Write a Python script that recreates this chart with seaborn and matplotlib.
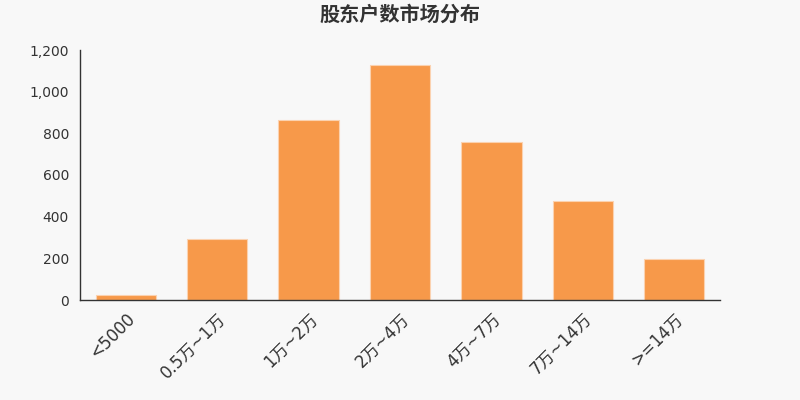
import matplotlib
matplotlib.use("Agg")
import matplotlib.pyplot as plt
import seaborn as sns
import pandas as pd
from matplotlib.ticker import FuncFormatter, FixedLocator

# data
categories = ["<5000", "0.5万~1万", "1万~2万", "2万~4万", "4万~7万", "7万~14万", ">=14万"]
counts = [25, 293, 865, 1128, 760, 477, 195]

sns.set_theme(style="white")
plt.rcParams["font.family"] = ["DejaVu Sans", "Noto Sans CJK SC"]

bg = "#f8f8f8"
df = pd.DataFrame({"cat": categories, "n": counts})

fig = plt.figure(figsize=(8, 4), dpi=100, facecolor=bg)
ax = fig.add_axes([0.1, 0.25, 0.8, 0.625])
ax.set_facecolor(bg)

sns.barplot(data=df, x="cat", y="n", color="#f7994a", saturation=1,
            width=0.66, edgecolor="#fbd2b0", linewidth=0.8, ax=ax)

ax.set_ylim(0, 1200)
ax.set_xlim(-0.5, len(categories) - 0.5)
ax.set_yticks(range(0, 1201, 200))
ax.yaxis.set_major_formatter(FuncFormatter(lambda v, p: f"{int(v):,}"))
ax.set_xlabel("")
ax.set_ylabel("")

# ticks on the category boundaries, labels at centres
ax.xaxis.set_minor_locator(FixedLocator([i - 0.5 for i in range(len(categories) + 1)]))
ax.tick_params(axis="x", which="major", length=0, pad=7)
ax.tick_params(axis="x", which="minor", length=5, width=1, color="#333333", direction="out")
ax.tick_params(axis="y", length=5, width=1, color="#333333", direction="out", labelsize=10,
               labelcolor="#333333", pad=3)
ax.set_xticks(range(len(categories)))
ax.set_xticklabels(categories, rotation=45, ha="right", rotation_mode="anchor",
                   fontsize=12, color="#333333")

for side in ["top", "right"]:
    ax.spines[side].set_visible(False)
for side in ["left", "bottom"]:
    ax.spines[side].set_color("#333333")
    ax.spines[side].set_linewidth(1)

fig.text(0.5, 0.965, "股东户数市场分布", ha="center", va="center", fontsize=14.5,
         fontweight="bold", color="#333333", family=["Noto Sans CJK SC", "DejaVu Sans"])

fig.savefig("out.png", dpi=100, facecolor=bg)
